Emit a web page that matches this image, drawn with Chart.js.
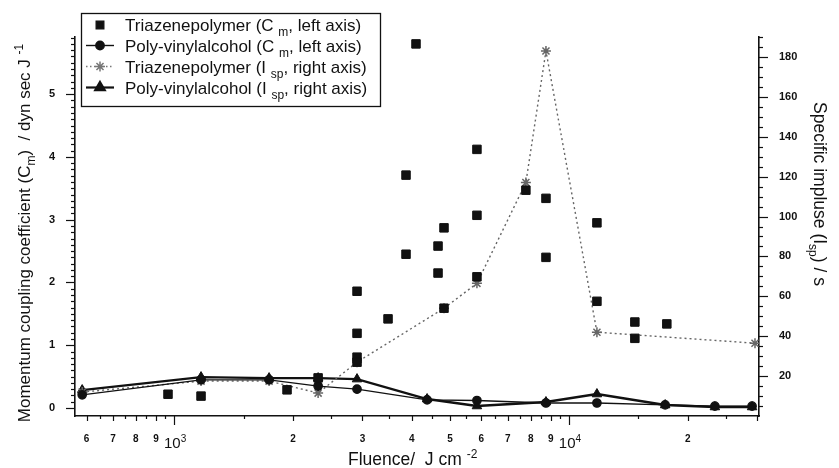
<!DOCTYPE html>
<html><head><meta charset="utf-8">
<script src="https://cdn.jsdelivr.net/npm/chart.js@4.4.0/dist/chart.umd.min.js"></script>
<style>html,body{margin:0;padding:0;background:#fff;} #wrap{width:839px;height:468px;}</style>
</head><body><div id="wrap"><canvas id="c"></canvas></div>
<script>
const FONT = '"Liberation Sans", Arial, Helvetica, sans-serif';

// ---- data ----
const triCmFluence = [965,1170,1932,2316,2906,2906,2906,2906,3482,3867,3867,4099,4661,4826,4661,4826,5848,5848,5848,7780,8747,8747,11774,11774,14690,14690,17700];
const triCmValues  = [0.22,0.19,0.29,0.48,1.86,1.19,0.81,0.73,1.42,2.45,3.71,5.80,2.58,2.87,2.15,1.59,4.12,3.07,2.09,3.47,3.34,2.40,2.95,1.70,1.37,1.11,1.34];
const triIspFluence = [585,1170,1740,2316,2906,4826,5848,7780,8747,11774,29600];
const triIspValues  = [12,17.5,17.5,11.5,27,54,66.5,117,183,42,36.5];
const pvaFluence   = [585,1170,1740,2316,2906,4373,5848,8747,11774,17530,23426,29100];
const pvaCmValues  = [0.21,0.45,0.45,0.35,0.30,0.13,0.12,0.08,0.08,0.05,0.03,0.03];
const pvaIspValues = [13,19.5,19,19,18.5,8.5,5,7,11,5.5,4.5,4.5];

const xTickValues = [600,700,800,900,1000,2000,3000,4000,5000,6000,7000,8000,9000,10000,20000,30000];
const xTickLabels = ['6','7','8','9','','2','3','4','5','6','7','8','9','','2',''];
const xMinorValues = [650,750,850,950,1500,2500,3500,4500,5500,6500,7500,8500,9500,15000,25000];
const decadeValues = [1000,10000];
const decadeExponents = ['3','4'];
const leftTickValues = [0,1,2,3,4,5];
const rightTickValues = [20,40,60,80,100,120,140,160,180];

const legendItems = [
  {segs:[{t:'Triazenepolymer (C '},{t:'m',sub:true},{t:', left axis)'}], kind:'tri'},
  {segs:[{t:'Poly-vinylalcohol (C '},{t:'m',sub:true},{t:', left axis)'}], kind:'pvaCm'},
  {segs:[{t:'Triazenepolymer (I '},{t:'sp',sub:true},{t:', right axis)'}], kind:'triIsp'},
  {segs:[{t:'Poly-vinylalcohol (I '},{t:'sp',sub:true},{t:', right axis)'}], kind:'pvaIsp'}
];

const pts = (xs, ys) => xs.map((x,i)=>({x:x, y:ys[i]}));

function fontFor(s,size){ const sz=(s.sub||s.sup)?Math.round(size*0.68):size; return (s.bold?'bold ':'')+sz+'px '+FONT; }
function richWidth(ctx,segs,size){ let w=0; for(const s of segs){ctx.font=fontFor(s,size); w+=ctx.measureText(s.t).width;} return w; }
function drawRich(ctx,segs,x,y,size){
  for(const s of segs){ ctx.font=fontFor(s,size);
    const dy = s.sub? size*0.3 : (s.sup? -size*0.42 : 0);
    ctx.fillText(s.t,x,y+dy); x+=ctx.measureText(s.t).width; }
}

const decor = {
  id:'decor',
  afterDraw(chart){
    const ctx=chart.ctx, a=chart.chartArea;
    const xs=chart.scales.x, yl=chart.scales.y, yr=chart.scales.y1;
    ctx.save();
    ctx.strokeStyle='#111'; ctx.fillStyle='#111'; ctx.lineWidth=1.2;
    const line=(x1,y1,x2,y2)=>{ctx.beginPath();ctx.moveTo(x1,y1);ctx.lineTo(x2,y2);ctx.stroke();};
    for(let i=0;i<=59;i++){ const p=Math.round(yl.getPixelForValue(i/10))+0.5; const maj=i%10===0; line(a.left-(maj?9:4),p,a.left,p); }
    for(let v=5;v<=190;v+=5){ const p=Math.round(yr.getPixelForValue(v))+0.5; const maj=v%20===0; line(a.right,p,a.right+(maj?9:4),p); }
    for(const v of xTickValues){ const p=Math.round(xs.getPixelForValue(v))+0.5; const dec=decadeValues.includes(v); line(p,a.bottom,p,a.bottom+(dec?9:5)); }
    for(const v of xMinorValues){ const p=Math.round(xs.getPixelForValue(v))+0.5; line(p,a.bottom,p,a.bottom+3); }
    ctx.textBaseline='alphabetic'; ctx.textAlign='left';
    decadeValues.forEach((v,i)=>{
      const segs=[{t:'10'},{t:decadeExponents[i],sup:true}];
      const w=richWidth(ctx,segs,15); const p=xs.getPixelForValue(v);
      drawRich(ctx,segs,p-w/2+1,448,15);
    });
    const bt=[{t:'Fluence/  J cm '},{t:'-2',sup:true}];
    drawRich(ctx,bt,348,465,17.5);
    const lt=[{t:'Momentum coupling coefficient (C'},{t:'m',sub:true},{t:')  / dyn sec J '},{t:'-1',sup:true}];
    ctx.save(); ctx.translate(30,233); ctx.rotate(-Math.PI/2);
    const lw=richWidth(ctx,lt,17); drawRich(ctx,lt,-lw/2,0,17); ctx.restore();
    const rt=[{t:'Specific impluse (I'},{t:'sp',sub:true},{t:') / s'}];
    ctx.save(); ctx.translate(814,194); ctx.rotate(Math.PI/2);
    const rw=richWidth(ctx,rt,17.5); drawRich(ctx,rt,-rw/2,0,17.5); ctx.restore();
    // legend
    const bx=81, by=13, bw=299, bh=93;
    ctx.fillStyle='#fff'; ctx.fillRect(bx,by,bw,bh);
    const rows=[25,45.5,66.5,87.5];
    const H=Chart.helpers;
    legendItems.forEach((it,i)=>{
      const cy=rows[i];
      ctx.save();
      if(it.kind==='tri'){
        ctx.fillStyle='#111'; ctx.strokeStyle='#111';
        H.drawPoint(ctx,{pointStyle:'rect',radius:5.5,borderWidth:1},100,cy);
      } else if(it.kind==='pvaCm'){
        ctx.strokeStyle='#111'; ctx.lineWidth=1.4; line(86,cy,114,cy);
        ctx.fillStyle='#111'; H.drawPoint(ctx,{pointStyle:'circle',radius:4.2,borderWidth:1},100,cy);
      } else if(it.kind==='triIsp'){
        ctx.strokeStyle='#777'; ctx.lineWidth=1.3; ctx.setLineDash([1.5,2.5]); line(86,cy,114,cy); ctx.setLineDash([]);
        ctx.lineWidth=1.5; H.drawPoint(ctx,{pointStyle:'star',radius:5,borderWidth:1.5},100,cy);
      } else {
        ctx.strokeStyle='#111'; ctx.lineWidth=2.2; line(86,cy,114,cy);
        ctx.fillStyle='#111'; H.drawPoint(ctx,{pointStyle:'triangle',radius:5.5,borderWidth:1},100,cy);
      }
      ctx.restore();
      ctx.save(); ctx.beginPath(); ctx.rect(bx,by,bw,bh); ctx.clip();
      ctx.fillStyle='#111'; ctx.textBaseline='alphabetic'; ctx.textAlign='left';
      drawRich(ctx,it.segs,125,cy+6,17); ctx.restore();
    });
    ctx.strokeStyle='#111'; ctx.lineWidth=1.3; ctx.strokeRect(bx+0.5,by+0.5,bw,bh);
    ctx.restore();
  }
};

const tickFont = {family:FONT,size:11,weight:'bold'};
new Chart(document.getElementById('c'),{
  type:'scatter',
  data:{datasets:[
    {label:'Triazenepolymer (Cm, left axis)', data:pts(triCmFluence,triCmValues), yAxisID:'y', showLine:false,
     pointStyle:'rect', pointRadius:6, backgroundColor:'#111', borderColor:'#111', borderWidth:1},
    {label:'Poly-vinylalcohol (Cm, left axis)', data:pts(pvaFluence,pvaCmValues), yAxisID:'y', showLine:true,
     pointStyle:'circle', pointRadius:4.2, backgroundColor:'#111', borderColor:'#111', borderWidth:1.3},
    {label:'Triazenepolymer (Isp, right axis)', data:pts(triIspFluence,triIspValues), yAxisID:'y1', showLine:true,
     pointStyle:'star', pointRadius:5, pointBorderWidth:1.5, backgroundColor:'#777', borderColor:'#666', borderWidth:1.4, borderDash:[2,3]},
    {label:'Poly-vinylalcohol (Isp, right axis)', data:pts(pvaFluence,pvaIspValues), yAxisID:'y1', showLine:true,
     pointStyle:'triangle', pointRadius:5.5, pointBorderWidth:1, backgroundColor:'#111', borderColor:'#111', borderWidth:2.4}
  ]},
  options:{
    responsive:true, maintainAspectRatio:false, animation:false,
    layout:{padding:{top:37,left:0,right:0,bottom:0}},
    plugins:{legend:{display:false},tooltip:{enabled:false}},
    scales:{
      x:{type:'logarithmic',min:561,max:30300,
         afterBuildTicks:s=>{s.ticks=xTickValues.map(v=>({value:v}));},
         afterFit:s=>{s.height=52;},
         grid:{display:false}, border:{display:true,color:'#111',width:1.6},
         ticks:{autoSkip:false,maxRotation:0,minRotation:0,padding:9,color:'#111',font:{family:FONT,size:10,weight:'bold'},
                callback:(v,i)=>xTickLabels[i]}},
      y:{type:'linear',position:'left',min:-0.127,max:5.91,
         afterBuildTicks:s=>{s.ticks=leftTickValues.map(v=>({value:v}));},
         afterFit:s=>{s.width=75;},
         grid:{display:false}, border:{display:true,color:'#111',width:1.6},
         ticks:{padding:12,color:'#111',font:tickFont,callback:v=>String(v)}},
      y1:{type:'linear',position:'right',min:0,max:190,
         afterBuildTicks:s=>{s.ticks=rightTickValues.map(v=>({value:v}));},
         afterFit:s=>{s.width=80;},
         grid:{display:false}, border:{display:true,color:'#111',width:1.6},
         ticks:{padding:12,color:'#111',font:tickFont,callback:v=>String(v)}}
    }
  },
  plugins:[decor]
});
</script></body></html>
